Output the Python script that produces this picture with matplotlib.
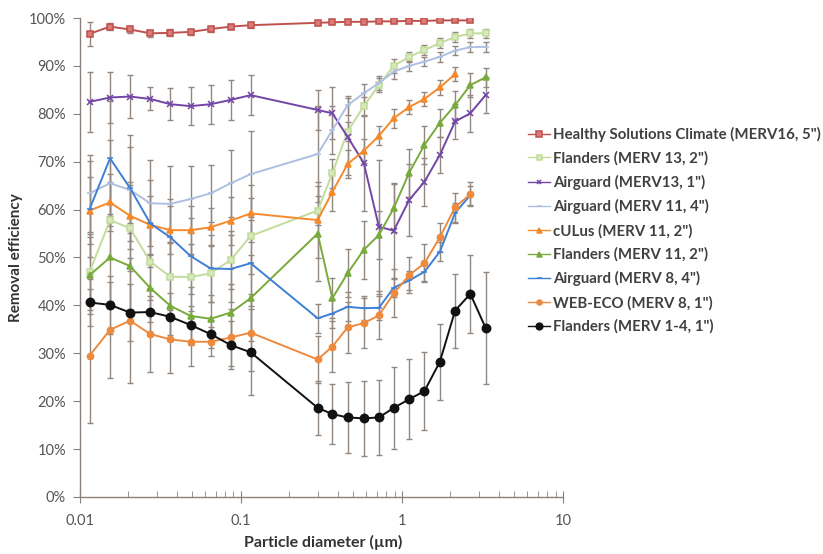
import numpy as np
import matplotlib
matplotlib.use("Agg")
import matplotlib.pyplot as plt

plt.rcParams["font.family"] = ["Lato", "DejaVu Sans"]

# particle diameters (um): SMPS channels + OPS channels
d_smps = [0.0115, 0.0154, 0.0205, 0.0274, 0.0365, 0.0487, 0.0649, 0.0866, 0.115]
d_ops = [0.30, 0.37, 0.46, 0.58, 0.72, 0.89, 1.11, 1.38, 1.72, 2.14, 2.66, 3.31]

labels = [
    'Healthy Solutions Climate (MERV16, 5")',
    'Flanders (MERV 13, 2")',
    'Airguard (MERV13, 1")',
    'Airguard (MERV 11, 4")',
    'cULus (MERV 11, 2")',
    'Flanders (MERV 11, 2")',
    'Airguard (MERV 8, 4")',
    'WEB-ECO (MERV 8, 1")',
    'Flanders (MERV 1-4, 1")',
]

# removal efficiency (%)
hs_merv16 = [96.7, 98.2, 97.6, 96.8, 96.9, 97.1, 97.7, 98.2, 98.5,
             99.0, 99.1, 99.2, 99.2, 99.3, 99.3, 99.4, 99.4, 99.5, 99.5, 99.5]
fl_merv13 = [47.0, 57.8, 56.1, 49.1, 46.0, 45.9, 46.7, 49.5, 54.5,
             59.8, 67.6, 76.3, 81.6, 86.0, 90.0, 91.9, 93.3, 94.8, 96.0, 96.8, 96.8]
ag_merv13 = [82.5, 83.4, 83.6, 83.1, 82.0, 81.6, 82.0, 82.9, 83.9,
             80.8, 80.1, 75.2, 69.7, 56.4, 55.6, 62.0, 65.8, 71.4, 78.4, 80.1, 83.9]
ag_merv11 = [63.4, 65.5, 64.1, 61.3, 61.2, 62.2, 63.4, 65.5, 67.4,
             71.6, 76.6, 81.8, 84.3, 86.4, 88.8, 90.0, 90.9, 91.9, 93.2, 93.9, 94.0]
cu_merv11 = [59.8, 61.5, 58.7, 56.8, 55.7, 55.7, 56.3, 57.7, 59.2,
             57.8, 63.7, 69.5, 72.3, 75.4, 79.1, 81.4, 83.1, 85.5, 88.3]
fl_merv11 = [46.3, 50.0, 48.2, 43.6, 39.9, 37.8, 37.2, 38.5, 41.5,
             55.0, 41.5, 46.7, 51.6, 54.7, 60.3, 67.7, 73.5, 78.1, 81.8, 86.0, 87.6]
ag_merv8 = [60.1, 70.7, 64.5, 57.1, 54.2, 50.3, 47.7, 47.6, 48.8,
            37.3, 38.3, 39.7, 39.4, 39.5, 43.7, 45.2, 47.0, 51.2, 59.3, 63.0]
we_merv8 = [29.5, 34.9, 36.8, 34.0, 32.9, 32.4, 32.4, 33.3, 34.3,
            28.7, 31.4, 35.4, 36.3, 37.9, 42.5, 46.3, 48.8, 54.2, 60.5, 63.2]
fl_merv1 = [40.6, 40.1, 38.5, 38.6, 37.6, 35.9, 34.0, 31.7, 30.2,
            18.6, 17.3, 16.6, 16.4, 16.6, 18.6, 20.4, 22.1, 28.2, 38.9, 42.4, 35.3]

# error bar half-widths (%)
hs_err = [2.5, 0.8, 0.8, 0.7, 0.7, 0.7, 0.7, 0.6, 0.6,
          0.3, 0.3, 0.3, 0.3, 0.3, 0.3, 0.3, 0.3, 0.3, 0.3, 0.3]
fl13_err = [8, 8, 9, 8, 7, 7, 6, 6, 8,
            3, 3, 2, 2, 1.5, 1.5, 1, 1, 1, 1, 1, 1]
ag13_err = [6.3, 5.4, 4.4, 2.4, 3.3, 3.9, 4.1, 4.2, 4.2,
            4.2, 5.4, 8.0, 10.0, 14.0, 10.0, 7.5, 5.0, 3.7, 3.7, 3.8, 3.7]
ag11_err = [8, 9, 9, 9, 8, 7, 6, 7, 9,
            10, 5, 2, 2, 1.5, 1.5, 1, 1, 1, 1, 1, 1]
cu11_err = [7, 6, 7, 6, 5, 5, 4, 5, 6,
            8, 4, 3, 2.5, 2, 2, 1.5, 1.5, 1.5, 1.4]
fl11_err = [8, 9, 9, 7, 6, 6, 5, 6, 9,
            10, 4.2, 5, 6, 5, 5, 5, 4, 3, 3, 2.5, 2]
ag8_err = [10, 12, 11, 9, 8, 8, 7, 7, 9,
           3, 3, 3, 2.5, 2.5, 2, 2, 2, 2, 2, 2]
we8_err = [14, 10, 13, 8, 7, 5, 3, 6, 8,
           5, 5.4, 5.4, 5.3, 5, 5, 3.7, 4, 3, 3, 2.5]
fl1_err = [5, 6, 6, 5, 5, 4, 3, 5, 9,
           5.7, 6.3, 7.4, 7.9, 7.9, 8.6, 8.4, 8.1, 8.0, 7.7, 8.2, 11.7]

series = [
    (hs_merv16, hs_err, "#C0504D", "s", 5, "#D97B78"),
    (fl_merv13, fl13_err, "#C3DC9C", "s", 4.5, "#D7E8BC"),
    (ag_merv13, ag13_err, "#7245A6", "x", 4, "#7245A6"),
    (ag_merv11, ag11_err, "#AEBFE4", "_", 4.5, "#AEBFE4"),
    (cu_merv11, cu11_err, "#F58A2C", "^", 4.5, "#F58A2C"),
    (fl_merv11, fl11_err, "#78AA3C", "^", 4.5, "#78AA3C"),
    (ag_merv8, ag8_err, "#3F7FD6", "_", 4.5, "#3F7FD6"),
    (we_merv8, we8_err, "#EE8A3E", "o", 4.5, "#EE8A3E"),
    (fl_merv1, fl1_err, "#111111", "o", 6, "#111111"),
]

x_all = d_smps + d_ops

fig = plt.figure(figsize=(8.23, 5.54), dpi=100)
ax = fig.add_axes([0.097, 0.103, 0.587, 0.8645])

err_color = "#928880"
for (vals, errs, col, mk, ms, face), lab in zip(series, labels):
    xs = x_all[:len(vals)]
    ax.errorbar(xs, vals, yerr=errs, fmt="none", ecolor=err_color,
                elinewidth=1.0, capsize=2.5, capthick=1.0, zorder=1)
    ax.plot(xs, vals, color=col, lw=1.4, marker=mk, ms=ms,
            markerfacecolor=face, markeredgecolor=col, mew=1.1,
            label=lab, zorder=3)

ax.set_xscale("log")
ax.set_xlim(0.01, 10)
ax.set_ylim(0, 100)
ax.set_xticks([0.01, 0.1, 1, 10])
ax.set_xticklabels(["0.01", "0.1", "1", "10"])
ax.set_yticks(np.arange(0, 101, 10))
ax.set_yticklabels([f"{v}%" for v in range(0, 101, 10)])

for s in ["top", "right"]:
    ax.spines[s].set_visible(False)
for s in ["left", "bottom"]:
    ax.spines[s].set_color("#8C817A")
    ax.spines[s].set_linewidth(1.0)

ax.tick_params(axis="y", direction="out", length=5, color="#8C817A",
               labelsize=10.5, labelcolor="#555555", pad=5)
ax.tick_params(axis="x", which="major", direction="inout", length=8,
               color="#8C817A", labelsize=10.5, labelcolor="#555555", pad=8)
ax.tick_params(axis="x", which="minor", direction="in", length=4,
               color="#8C817A")

ax.set_xlabel("Particle diameter (µm)", fontsize=11.5, fontweight="bold",
              color="#333333", va="center")
ax.xaxis.set_label_coords(0.503, -0.096)
ax.set_ylabel("Removal efficiency", fontsize=11, fontweight="bold",
              color="#333333")
ax.yaxis.set_label_coords(-0.118, 0.5)

leg = fig.legend(*ax.get_legend_handles_labels(), loc="upper left",
                 bbox_to_anchor=(0.6415, 0.771), frameon=False,
                 fontsize=10.8, handlelength=1.5, handletextpad=0.15,
                 labelspacing=0.62, borderpad=0, borderaxespad=0,
                 markerscale=0.8)
for t in leg.get_texts():
    t.set_color("#404040")
    t.set_fontweight("bold")
for h in leg.legend_handles:
    h.set_linewidth(1.0)

fig.savefig("out.png", dpi=100)
